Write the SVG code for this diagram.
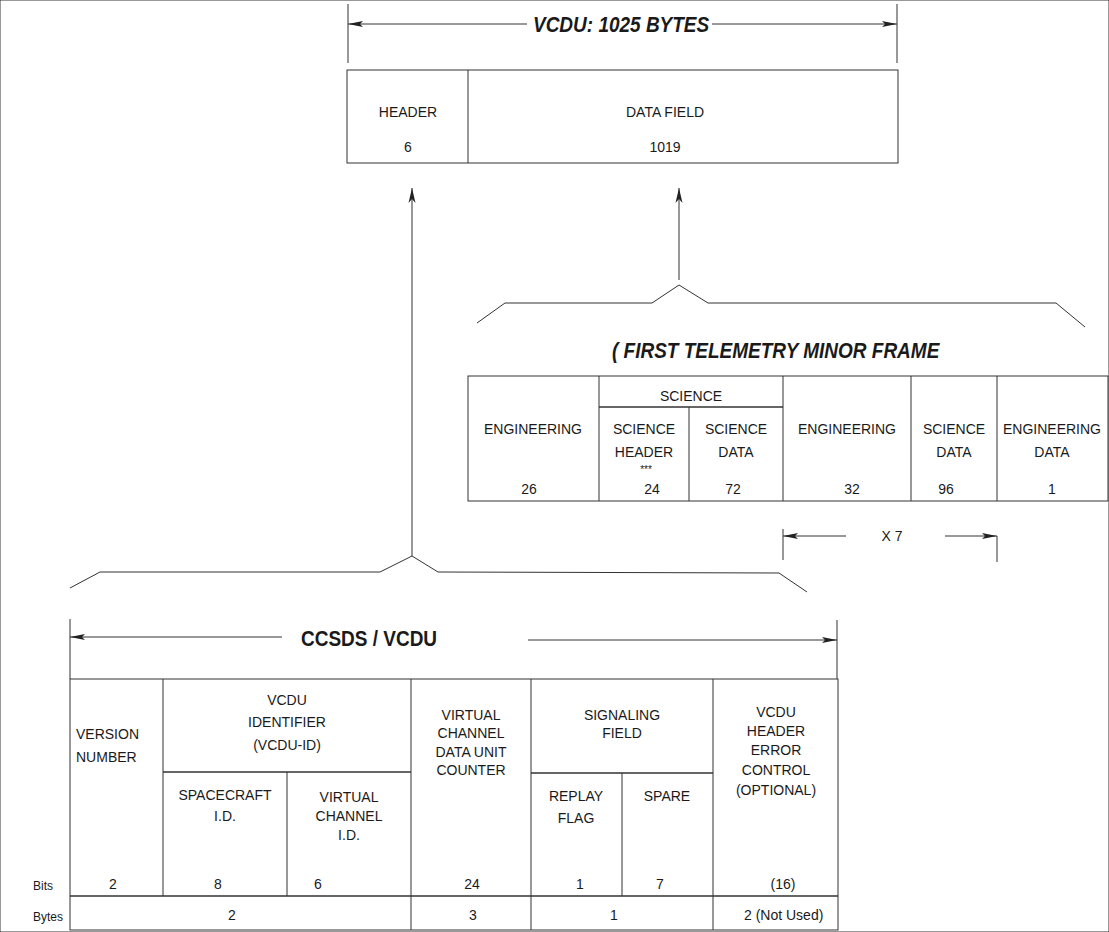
<svg xmlns="http://www.w3.org/2000/svg" width="1109" height="932" viewBox="0 0 1109 932">
<defs>
<marker id="ah" viewBox="0 0 15 8" refX="15" refY="4" markerWidth="15" markerHeight="8" markerUnits="userSpaceOnUse" orient="auto">
<path d="M0,1 L15,4 L0,7 L3,4 Z" fill="#222"/>
</marker>
<marker id="av" viewBox="0 0 15 8" refX="15" refY="4" markerWidth="15" markerHeight="8" markerUnits="userSpaceOnUse" orient="auto">
<path d="M0,0.5 L15,4 L0,7.5 L4,4 Z" fill="#222"/>
</marker>
</defs>
<style>
text{font-family:"Liberation Sans",Arial,Helvetica,sans-serif;font-size:14px;fill:#1a1a1a;text-anchor:middle}
.t{font-size:19px;font-weight:bold;font-style:italic;text-anchor:start}
.b{font-size:19px;font-weight:bold;text-anchor:start}
.l{text-anchor:start}
.s{font-size:10px}
.lab{font-size:12px;text-anchor:start}
line,rect,polyline{stroke:#333;stroke-width:1;fill:none}
.th{stroke-width:1.6}
</style>
<rect width="1109" height="932" fill="#fff" stroke="none"/>

<g id="vcdu-frame">
<line x1="348" y1="4" x2="348" y2="63"/>
<line x1="897" y1="4" x2="897" y2="63"/>
<line x1="527" y1="24" x2="348" y2="24" marker-end="url(#ah)"/>
<line x1="712" y1="24" x2="897" y2="24" marker-end="url(#ah)"/>
<text class="t" transform="translate(533,32) scale(1,1.2)">VCDU: 1025 BYTES</text>
<rect x="347" y="70" width="551" height="93"/>
<line x1="468" y1="70" x2="468" y2="163"/>
<text x="408" y="117">HEADER</text>
<text x="408" y="152">6</text>
<text x="665" y="117">DATA FIELD</text>
<text x="665" y="152">1019</text>
</g>

<g id="connectors">
<line x1="412" y1="556" x2="412" y2="188" marker-end="url(#av)"/>
<line x1="679" y1="280" x2="679" y2="188" marker-end="url(#av)"/>
<polyline points="477,323 505,303 652,303 679,285 708,303 1056,303 1085,327"/>
<polyline points="70,588 100,572 380,572 412,556 438,572 779,573 807,592"/>
</g>

<g id="telemetry-frame">
<text class="t" transform="translate(612,358) scale(1,1.2)">( FIRST TELEMETRY MINOR FRAME</text>
<rect x="468" y="376" width="640" height="125"/>
<line x1="599" y1="376" x2="599" y2="501"/>
<line x1="689" y1="407" x2="689" y2="501"/>
<line x1="783" y1="376" x2="783" y2="501"/>
<line x1="911" y1="376" x2="911" y2="501"/>
<line x1="997" y1="376" x2="997" y2="501"/>
<line class="th" x1="599" y1="407" x2="783" y2="407"/>
<text x="691" y="401">SCIENCE</text>
<text x="533" y="434">ENGINEERING</text>
<text x="644" y="434">SCIENCE</text>
<text x="644" y="457">HEADER</text>
<text class="s" x="646" y="473">***</text>
<text x="736" y="434">SCIENCE</text>
<text x="736" y="457">DATA</text>
<text x="847" y="434">ENGINEERING</text>
<text x="954" y="434">SCIENCE</text>
<text x="954" y="457">DATA</text>
<text x="1052" y="434">ENGINEERING</text>
<text x="1052" y="457">DATA</text>
<text x="529" y="494">26</text>
<text x="652" y="494">24</text>
<text x="733" y="494">72</text>
<text x="852" y="494">32</text>
<text x="946" y="494">96</text>
<text x="1052" y="494">1</text>
</g>

<g id="repeat-x7">
<line x1="783" y1="529" x2="783" y2="560"/>
<line x1="997" y1="536" x2="997" y2="562"/>
<line x1="846" y1="536" x2="783" y2="536" marker-end="url(#ah)"/>
<line x1="945" y1="536" x2="997" y2="536" marker-end="url(#ah)"/>
<text x="892" y="541">X 7</text>
</g>

<g id="ccsds-vcdu">
<line x1="70" y1="619" x2="70" y2="679"/>
<line x1="837" y1="620" x2="837" y2="679"/>
<line x1="282" y1="637" x2="70" y2="637" marker-end="url(#ah)"/>
<line x1="528" y1="640" x2="837" y2="640" marker-end="url(#ah)"/>
<text class="b" transform="translate(301,646) scale(1,1.2)">CCSDS / VCDU</text>
<rect x="70" y="679" width="768" height="251"/>
<line x1="163" y1="679" x2="163" y2="896"/>
<line x1="411" y1="679" x2="411" y2="930"/>
<line x1="531" y1="679" x2="531" y2="930"/>
<line x1="713" y1="679" x2="713" y2="930"/>
<line class="th" x1="163" y1="772" x2="411" y2="772"/>
<line class="th" x1="531" y1="773" x2="713" y2="773"/>
<line x1="287" y1="772" x2="287" y2="896"/>
<line x1="622" y1="773" x2="622" y2="896"/>
<line class="th" x1="70" y1="896" x2="838" y2="896"/>

<text class="l" x="76" y="739">VERSION</text>
<text class="l" x="76" y="762">NUMBER</text>
<text x="287" y="705">VCDU</text>
<text x="287" y="727">IDENTIFIER</text>
<text x="287" y="750">(VCDU-ID)</text>
<text x="471" y="720">VIRTUAL</text>
<text x="471" y="738">CHANNEL</text>
<text x="471" y="757">DATA UNIT</text>
<text x="471" y="775">COUNTER</text>
<text x="622" y="720">SIGNALING</text>
<text x="622" y="738">FIELD</text>
<text x="776" y="717">VCDU</text>
<text x="776" y="736">HEADER</text>
<text x="776" y="755">ERROR</text>
<text x="776" y="775">CONTROL</text>
<text x="776" y="795">(OPTIONAL)</text>
<text x="225" y="800">SPACECRAFT</text>
<text x="225" y="821">I.D.</text>
<text x="349" y="802">VIRTUAL</text>
<text x="349" y="821">CHANNEL</text>
<text x="349" y="840">I.D.</text>
<text x="576" y="801">REPLAY</text>
<text x="576" y="823">FLAG</text>
<text x="667" y="801">SPARE</text>

<text class="lab" x="33" y="890">Bits</text>
<text class="lab" x="33" y="921">Bytes</text>
<text x="113" y="889">2</text>
<text x="218" y="889">8</text>
<text x="318" y="889">6</text>
<text x="472" y="889">24</text>
<text x="580" y="889">1</text>
<text x="660" y="889">7</text>
<text x="783" y="889">(16)</text>
<text x="232" y="920">2</text>
<text x="473" y="920">3</text>
<text x="614" y="920">1</text>
<text class="l" x="744" y="920">2  (Not Used)</text>
</g>
</svg>
